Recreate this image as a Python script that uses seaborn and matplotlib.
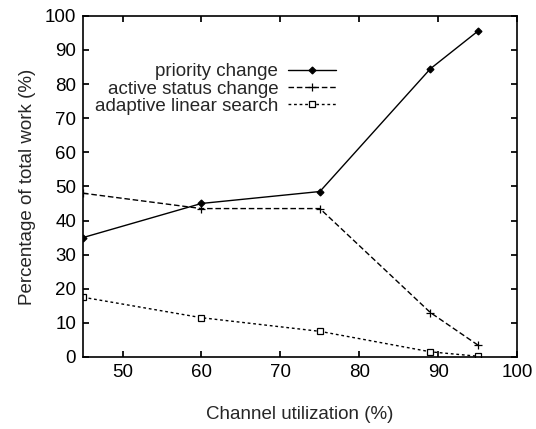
import matplotlib
matplotlib.use("Agg")
import matplotlib.pyplot as plt
import seaborn as sns
import pandas as pd

utilization = [45, 60, 75, 89, 95]
priority_change = [35, 45, 48.5, 84.5, 95.5]
active_status_change = [48, 43.5, 43.5, 13, 3.5]
adaptive_linear_search = [17.5, 11.5, 7.5, 1.5, 0.2]
series_names = ["priority change", "active status change", "adaptive linear search"]
x_ticks = [50, 60, 70, 80, 90, 100]
y_ticks = [0, 10, 20, 30, 40, 50, 60, 70, 80, 90, 100]

sns.set_theme(style="ticks")
plt.rcParams['font.family'] = ['Liberation Sans', 'DejaVu Sans']

df = pd.DataFrame({
    "util": utilization * 3,
    "value": priority_change + active_status_change + adaptive_linear_search,
    "series": [series_names[0]] * 5 + [series_names[1]] * 5 + [series_names[2]] * 5,
})

fig = plt.figure(figsize=(5.36, 4.29), dpi=100)
ax = fig.add_axes([0.155, 0.168, 0.81, 0.795])

styles = {
    series_names[0]: dict(linestyle="-", marker="D", markersize=3.5, markerfacecolor="black"),
    series_names[1]: dict(linestyle=(0, (4, 2)), marker="+", markersize=6),
    series_names[2]: dict(linestyle=(0, (2, 2)), marker="s", markersize=4, markerfacecolor="white"),
}
for name in series_names:
    sub = df[df["series"] == name]
    sns.lineplot(data=sub, x="util", y="value", ax=ax, color="black", linewidth=1.0,
                 label=name, markeredgecolor="black", markeredgewidth=0.9, **styles[name])

fs = 13.5
ax.set_xlim(45, 100)
ax.set_ylim(0, 100)
ax.set_xticks(x_ticks)
ax.set_yticks(y_ticks)
ax.tick_params(direction="in", top=True, right=True, length=4, labelsize=fs, colors="black", pad=5)
for s in ax.spines.values():
    s.set_color("black")
    s.set_linewidth(1.2)
ax.set_xlabel("Channel utilization (%)", fontsize=fs, labelpad=18)
ax.set_ylabel("Percentage of total work (%)", fontsize=fs, labelpad=6)

leg = ax.legend(loc="upper left", bbox_to_anchor=(0.01, 0.883), markerfirst=False, frameon=False,
                fontsize=fs, handlelength=2.6, handletextpad=0.5, labelspacing=0.0,
                borderaxespad=0.0)

fig.savefig("out.png", dpi=100)
